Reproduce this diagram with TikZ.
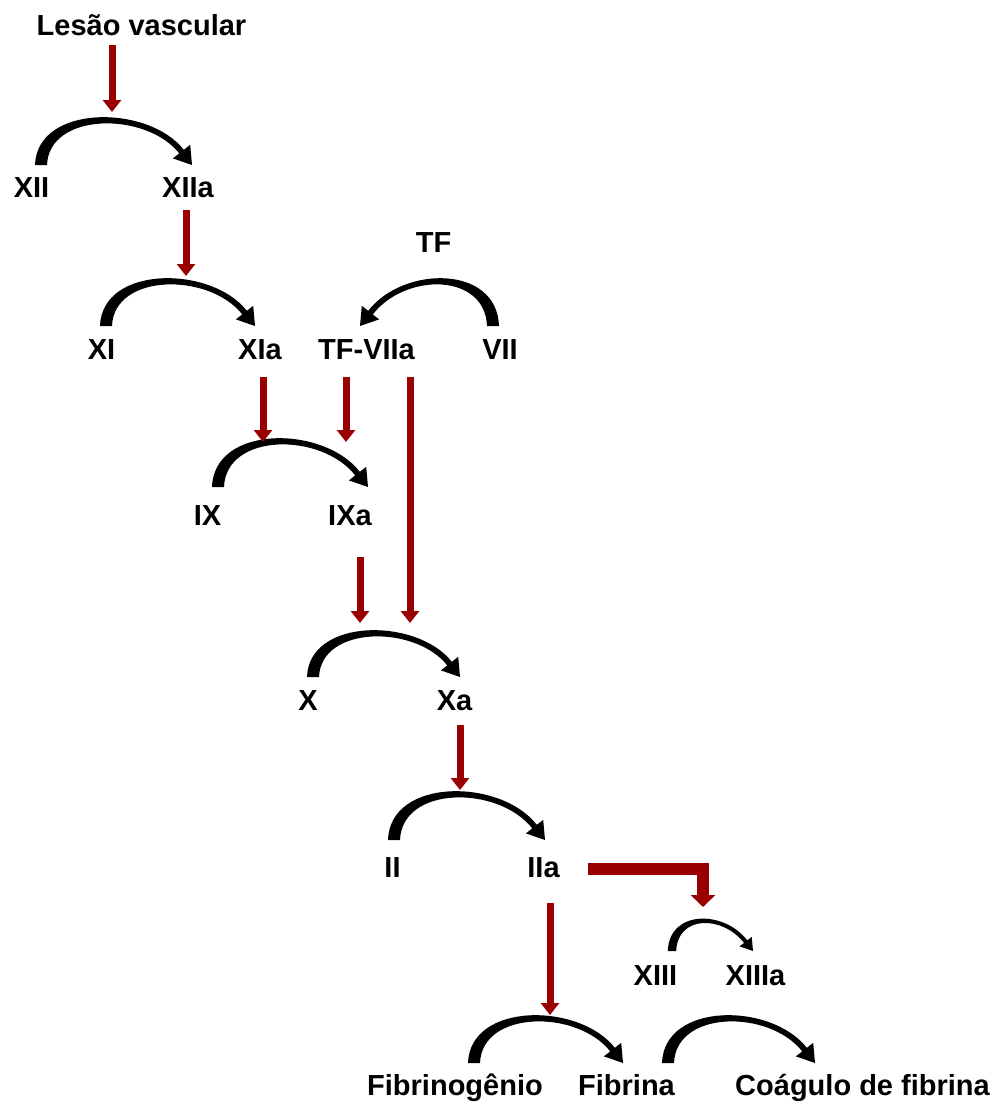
\documentclass[tikz,border=0pt]{standalone}
\usepackage{fontspec}
\setmainfont{Liberation Sans}
\usetikzlibrary{arrows.meta}
\definecolor{dred}{RGB}{155,0,0}
\tikzset{
  lbl/.style={font=\fontsize{29}{32}\selectfont\bfseries, anchor=base, inner sep=0pt, text=black},
  redarrow/.style={draw=dred, line width=7pt, -{Triangle[width=18pt,length=12pt]}, color=dred},
  redelbow/.style={draw=dred, line width=12pt, line join=miter, -{Triangle[width=24pt,length=12pt]}, color=dred},
  arcfill/.style={fill=black, draw=none},
}
% tapered curved arrow: #1 start coordinate, #2 length, #3 height, #4 direction (1/-1), #5 thickness scale
\newcommand\tarc[5]{%
  \begin{scope}[shift={(#1)}, xscale=#4, yscale=-1]
    \pgfmathsetmacro\tcL{#2}
    \pgfmathsetmacro\tcC{1.33*#3}
    \pgfmathsetmacro\tcHL{17*#5}
    \pgfmathsetmacro\tcCa{cos(52)}
    \pgfmathsetmacro\tcSa{sin(52)}
    \pgfmathsetmacro\tcBx{\tcL-\tcHL*\tcCa}
    \pgfmathsetmacro\tcBy{\tcHL*\tcSa}
    \pgfmathsetmacro\tcP{\tcBx-(\tcC-\tcBy)*\tcCa/\tcSa}
    \pgfmathsetmacro\tcT{6*#5}
    \pgfmathsetmacro\tcE{2.9*#5}
    \pgfmathsetmacro\tcW{11*#5}
    \pgfmathsetmacro\tcM{4*#5}
    \fill[arcfill] (-\tcT,0)
      .. controls (-\tcT+2*#5,\tcC+\tcM) and (\tcP+1,\tcC+0.9*\tcM) ..
      (\tcBx+\tcE*\tcSa,\tcBy+\tcE*\tcCa)
      -- (\tcBx+\tcW*\tcSa,\tcBy+\tcW*\tcCa)
      -- (\tcL,0)
      -- (\tcBx-\tcW*\tcSa,\tcBy-\tcW*\tcCa)
      -- (\tcBx-\tcE*\tcSa,\tcBy-\tcE*\tcCa)
      .. controls (\tcP-1,\tcC-0.9*\tcM) and (\tcT+2*#5,\tcC-\tcM) ..
      (\tcT,0) -- cycle;
  \end{scope}}
\begin{document}
\begin{tikzpicture}[x=1pt,y=-1pt]
\useasboundingbox (0,0) rectangle (994,1104);
% labels
\node[lbl] (lesao) at (141.5,35) {Lesão vascular};
\node[lbl] (xii) at (31.5,197) {XII};
\node[lbl] (xiia) at (188,197) {XIIa};
\node[lbl] (tf) at (433.5,252) {TF};
\node[lbl] (xi) at (101.5,359) {XI};
\node[lbl] (xia) at (260,359) {XIa};
\node[lbl] (tfviia) at (366.5,359) {TF-VIIa};
\node[lbl] (vii) at (500,359) {VII};
\node[lbl] (ix) at (207.5,525) {IX};
\node[lbl] (ixa) at (350,525) {IXa};
\node[lbl] (x) at (308,710) {X};
\node[lbl] (xa) at (454.5,710) {Xa};
\node[lbl] (ii) at (392.5,877) {II};
\node[lbl] (iia) at (543.5,877) {IIa};
\node[lbl] (xiii) at (655.5,985) {XIII};
\node[lbl] (xiiia) at (755.5,985) {XIIIa};
\node[lbl] (fibrinog) at (455,1095) {Fibrinogênio};
\node[lbl] (fibrina) at (626.5,1095) {Fibrina};
\node[lbl] (coagulo) at (862.5,1095) {Coágulo de fibrina};
% arc start coordinates
\coordinate (c-xii) at (41,165);
\coordinate (c-xi) at (106,326);
\coordinate (c-vii) at (493,326);
\coordinate (c-ix) at (218,487);
\coordinate (c-x) at (313,677);
\coordinate (c-ii) at (394,840);
\coordinate (c-xiii) at (672,951);
\coordinate (c-fg) at (474,1063);
\coordinate (c-fb) at (668,1063);
% black tapered arcs
\tarc{c-xii}{151}{43}{1}{1}
\tarc{c-xi}{149}{43}{1}{1}
\tarc{c-vii}{133}{43}{-1}{1}
\tarc{c-ix}{150}{44}{1}{1}
\tarc{c-x}{147}{42}{1}{1}
\tarc{c-ii}{151}{44}{1}{1}
\tarc{c-xiii}{81}{29}{1}{0.7}
\tarc{c-fg}{149}{43}{1}{1}
\tarc{c-fb}{147}{43}{1}{1}
% red arrow end points
\coordinate (r1a) at (112,45);  \coordinate (r1b) at (112,112);
\coordinate (r2a) at (186,210); \coordinate (r2b) at (186,276);
\coordinate (r3a) at (263,377); \coordinate (r3b) at (263,442);
\coordinate (r4a) at (346,377); \coordinate (r4b) at (346,442);
\coordinate (r5a) at (410,377); \coordinate (r5b) at (410,623);
\coordinate (r6a) at (360,557); \coordinate (r6b) at (360,623);
\coordinate (r7a) at (460,725); \coordinate (r7b) at (460,790);
\coordinate (r8a) at (550,903); \coordinate (r8b) at (550,1015);
\coordinate (e1) at (588,869); \coordinate (e2) at (703,869); \coordinate (e3) at (703,907);
\draw[redarrow] (r1a) -- (r1b);
\draw[redarrow] (r2a) -- (r2b);
\draw[redarrow] (r3a) -- (r3b);
\draw[redarrow] (r4a) -- (r4b);
\draw[redarrow] (r5a) -- (r5b);
\draw[redarrow] (r6a) -- (r6b);
\draw[redarrow] (r7a) -- (r7b);
\draw[redarrow] (r8a) -- (r8b);
\draw[redelbow] (e1) -- (e2) -- (e3);
\end{tikzpicture}
\end{document}
